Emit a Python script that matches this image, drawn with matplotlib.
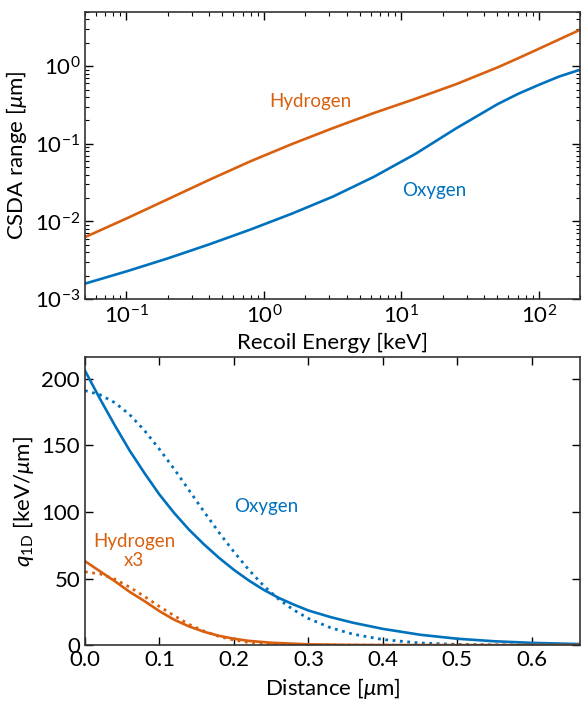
import numpy as np
import matplotlib
matplotlib.use("Agg")
import matplotlib.pyplot as plt

plt.rcParams['font.family'] = ['Lato', 'DejaVu Sans']
plt.rcParams['mathtext.fontset'] = 'custom'
plt.rcParams['mathtext.rm'] = 'Lato'
plt.rcParams['mathtext.it'] = 'Lato:italic'
plt.rcParams['mathtext.bf'] = 'Lato:bold'

blue = '#0072bd'
orange = '#d9600f'

# CSDA range vs recoil energy
energy_keV = [0.05, 0.1, 0.2, 0.4, 0.8, 1.6, 3.2, 6.3, 12.6, 25, 50, 71, 100, 141, 200]
range_H = [0.00627, 0.0109, 0.0193, 0.0343, 0.0596, 0.0993, 0.160, 0.249, 0.379,
           0.586, 0.964, 1.27, 1.675, 2.22, 2.95]
range_O = [0.00158, 0.00227, 0.00334, 0.00506, 0.00787, 0.0126, 0.0210, 0.0375,
           0.0738, 0.158, 0.324, 0.442, 0.575, 0.738, 0.902]

# q_1D profiles vs distance (solid: profile, dotted: fit)
dist_O = [0, 0.02, 0.04, 0.06, 0.08, 0.1, 0.12, 0.14, 0.16, 0.18, 0.2, 0.22, 0.24, 0.26,
          0.28, 0.3, 0.33, 0.36, 0.4, 0.45, 0.5, 0.55, 0.6, 0.665]
q_O = [206, 185, 165, 146, 129, 113, 99, 86.5, 75.5, 65.5, 56.5, 48.5, 41.5, 35.5,
       30.5, 26, 21, 16.8, 12.2, 7.8, 4.8, 2.9, 1.7, 0.8]
q_O_fit = [191, 188, 182, 173, 161, 147, 132, 116, 100, 84.5, 70, 56.5, 44.5, 34.5,
           26.5, 20, 13, 8.2, 4.2, 1.6, 0.55, 0.15, 0.03, 0.0]

dist_H = [0, 0.02, 0.04, 0.06, 0.08, 0.1, 0.12, 0.14, 0.16, 0.18, 0.2, 0.22, 0.25,
          0.3, 0.35, 0.4, 0.665]
q_H = [63, 55.5, 48, 40, 33, 25.5, 19, 14, 10, 7, 4.8, 3.2, 1.8,
       0.6, 0.2, 0.05, 0.0]
q_H_fit = [55, 53.5, 49.5, 43.5, 36.5, 29, 22, 15.5, 10.5, 6.5, 3.8, 2.0, 0.8,
           0.15, 0.03, 0.0, 0.0]

fig = plt.figure(figsize=(5.82, 7.02), dpi=100)
ax1 = fig.add_axes([0.146, 0.574, 0.851, 0.409])
ax2 = fig.add_axes([0.146, 0.081, 0.851, 0.410])

# --- top: range
ax1.plot(energy_keV, range_H, color=orange, lw=1.9)
ax1.plot(energy_keV, range_O, color=blue, lw=1.9)
ax1.set_xscale('log')
ax1.set_yscale('log')
ax1.set_xlim(0.05, 200)
ax1.set_ylim(1e-3, 5)
ax1.set_xlabel('Recoil Energy [keV]', fontsize=16)
ax1.set_ylabel(r'CSDA range [$\mu$m]', fontsize=16)
ax1.text(2.17, 0.355, 'Hydrogen', color=orange, fontsize=13.5, ha='center', va='center')
ax1.text(17.4, 0.0248, 'Oxygen', color=blue, fontsize=13.5, ha='center', va='center')

# --- bottom: q_1D
ax2.plot(dist_O, q_O, color=blue, lw=1.9)
ax2.plot(dist_O, q_O_fit, color=blue, lw=2.0, ls=':')
ax2.plot(dist_H, q_H, color=orange, lw=1.9)
ax2.plot(dist_H, q_H_fit, color=orange, lw=2.0, ls=':')
ax2.set_xlim(0, 0.665)
ax2.set_ylim(0, 216)
ax2.set_xticks([0, 0.1, 0.2, 0.3, 0.4, 0.5, 0.6])
ax2.set_yticks([0, 50, 100, 150, 200])
ax2.set_xlabel(r'Distance [$\mu$m]', fontsize=16)
ax2.set_ylabel(r'$q_{\rm 1D}$ [keV/$\mu$m]', fontsize=16)
ax2.text(0.243, 104, 'Oxygen', color=blue, fontsize=13.5, ha='center', va='center')
ax2.text(0.066, 70.5, 'Hydrogen\nx3', color=orange, fontsize=13.5, ha='center', va='center',
         linespacing=1.15)

for ax in (ax1, ax2):
    ax.tick_params(which='both', direction='in', top=True, right=True, labelsize=16)
    ax.tick_params(which='major', length=6, width=1)
    ax.tick_params(which='minor', length=3, width=0.8)
    for s in ax.spines.values():
        s.set_linewidth(1.2)
        s.set_color('#333333')

fig.savefig('out.png', dpi=100)
